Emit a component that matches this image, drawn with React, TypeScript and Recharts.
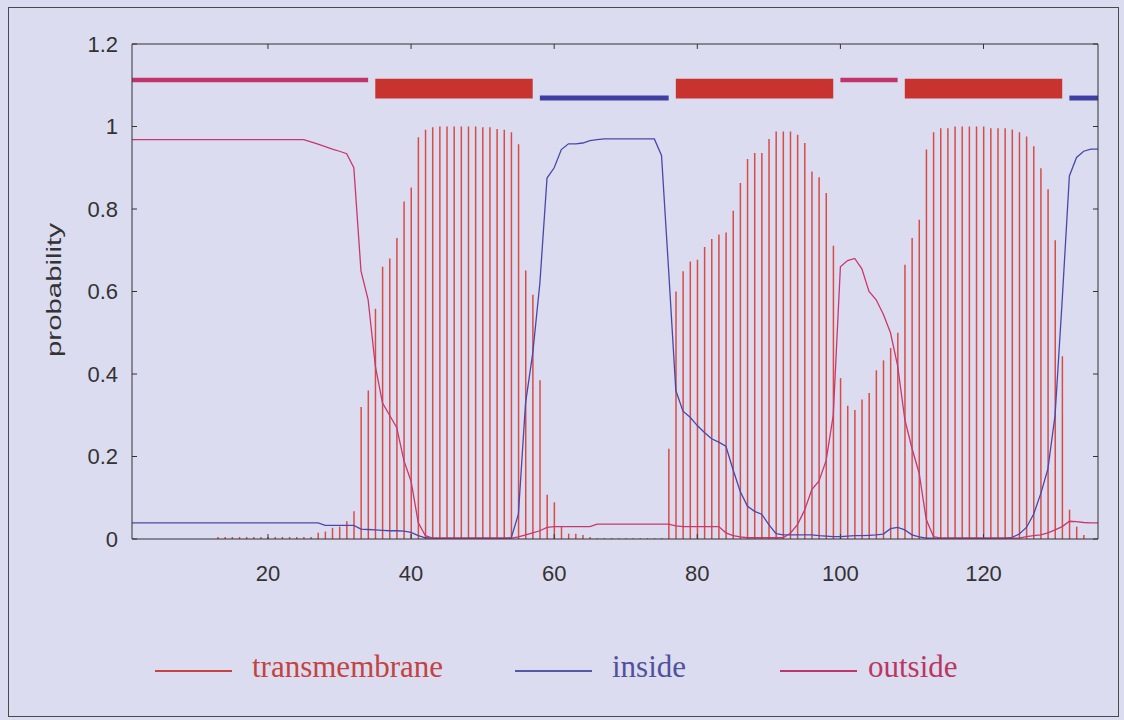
import React from "react";
import { ComposedChart, Bar, Line, XAxis, YAxis, ReferenceArea, ReferenceLine } from "recharts";

// posterior probabilities per residue (TMHMM style)
const tm = [
  0, 0, 0, 0, 0, 0, 0, 0, 0, 0,
  0, 0, 0.005, 0.005, 0.005, 0.005, 0.005, 0.005, 0.005, 0.005,
  0.005, 0.005, 0.005, 0.005, 0.005, 0.005, 0.015, 0.018, 0.027, 0.03,
  0.043, 0.067, 0.32, 0.36, 0.558, 0.66, 0.68, 0.73, 0.818, 0.852,
  0.974, 0.992, 0.998, 1, 1, 1, 1, 1, 1, 0.998,
  0.998, 0.994, 0.992, 0.986, 0.957, 0.651, 0.592, 0.385, 0.107, 0.089,
  0.03, 0.013, 0.013, 0.01, 0.005, 0.002, 0.002, 0.002, 0.002, 0.002,
  0.002, 0.002, 0.002, 0.002, 0.002, 0.219, 0.6, 0.649, 0.673, 0.677,
  0.708, 0.727, 0.738, 0.743, 0.796, 0.863, 0.921, 0.936, 0.936, 0.97,
  0.988, 0.988, 0.988, 0.98, 0.96, 0.891, 0.877, 0.839, 0.711, 0.39,
  0.323, 0.313, 0.338, 0.354, 0.409, 0.433, 0.463, 0.5, 0.665, 0.73,
  0.774, 0.944, 0.986, 0.996, 0.996, 1, 1, 1, 1, 1,
  0.996, 0.996, 0.996, 0.993, 0.986, 0.976, 0.952, 0.899, 0.848, 0.724,
  0.443, 0.071, 0.03, 0.01, 0, 0,
];

const inside = [
  0.039, 0.039, 0.039, 0.039, 0.039, 0.039, 0.039, 0.039, 0.039, 0.039,
  0.039, 0.039, 0.039, 0.039, 0.039, 0.039, 0.039, 0.039, 0.039, 0.039,
  0.039, 0.039, 0.039, 0.039, 0.039, 0.039, 0.039, 0.033, 0.033, 0.033,
  0.033, 0.033, 0.024, 0.023, 0.022, 0.021, 0.02, 0.02, 0.019, 0.016,
  0.008, 0.003, 0.002, 0.002, 0.002, 0.002, 0.002, 0.002, 0.002, 0.002,
  0.002, 0.002, 0.002, 0.003, 0.06, 0.33, 0.45, 0.62, 0.875, 0.9,
  0.944, 0.958, 0.958, 0.96, 0.966, 0.968, 0.97, 0.97, 0.97, 0.97,
  0.97, 0.97, 0.97, 0.97, 0.93, 0.65, 0.36, 0.31, 0.295, 0.275,
  0.258, 0.243, 0.235, 0.225, 0.168, 0.115, 0.08, 0.067, 0.06, 0.035,
  0.013, 0.01, 0.01, 0.01, 0.01, 0.01, 0.008, 0.007, 0.006, 0.006,
  0.007, 0.008, 0.008, 0.009, 0.01, 0.012, 0.025, 0.028, 0.022, 0.01,
  0.005, 0.002, 0.002, 0.002, 0.002, 0.002, 0.002, 0.002, 0.002, 0.002,
  0.002, 0.002, 0.002, 0.004, 0.012, 0.028, 0.06, 0.11, 0.17, 0.3,
  0.58, 0.88, 0.925, 0.94, 0.945, 0.945,
];

const outside = [
  0.968, 0.968, 0.968, 0.968, 0.968, 0.968, 0.968, 0.968, 0.968, 0.968,
  0.968, 0.968, 0.968, 0.968, 0.968, 0.968, 0.968, 0.968, 0.968, 0.968,
  0.968, 0.968, 0.968, 0.968, 0.968, 0.963, 0.957, 0.951, 0.945, 0.94,
  0.934, 0.9, 0.65, 0.58, 0.42, 0.33, 0.3, 0.27, 0.19, 0.14,
  0.04, 0.008, 0.002, 0.002, 0.002, 0.002, 0.002, 0.002, 0.002, 0.002,
  0.002, 0.002, 0.002, 0.002, 0.005, 0.01, 0.015, 0.02, 0.028, 0.03,
  0.03, 0.03, 0.03, 0.03, 0.03, 0.036, 0.036, 0.036, 0.036, 0.036,
  0.036, 0.036, 0.036, 0.036, 0.036, 0.036, 0.032, 0.03, 0.03, 0.03,
  0.03, 0.03, 0.03, 0.015, 0.008, 0.005, 0.003, 0.003, 0.003, 0.003,
  0.003, 0.003, 0.014, 0.035, 0.07, 0.12, 0.14, 0.19, 0.3, 0.66,
  0.675, 0.68, 0.655, 0.6, 0.58, 0.545, 0.5, 0.42, 0.29, 0.22,
  0.16, 0.047, 0.006, 0.002, 0.002, 0.002, 0.002, 0.002, 0.002, 0.002,
  0.002, 0.002, 0.002, 0.002, 0.002, 0.006, 0.008, 0.01, 0.015, 0.022,
  0.03, 0.043, 0.042, 0.04, 0.039, 0.039,
];

// predicted topology shown above the curves
const segStart = [1, 35, 58, 77, 100, 109, 132];
const segEnd = [34, 57, 76, 99, 108, 131, 136];
const segType = ["outside", "TMhelix", "inside", "TMhelix", "outside", "TMhelix", "inside"];

const xTicks = [20, 40, 60, 80, 100, 120];
const yTicks = [0, 0.2, 0.4, 0.6, 0.8, 1, 1.2];

const legendNames = ["transmembrane", "inside", "outside"];

const data = tm.map((v, i) => ({ r: i + 1, tm: v, inside: inside[i], outside: outside[i] }));

const X_MIN = 1;
const X_MAX = 136;
const Y_MAX = 1.2;
// inward tick length in data units (about 5px each way)
const TICK_X = 0.7;
const TICK_Y = 0.012;

const segStyle: Record<string, { y1: number; y2: number; fill: string }> = {
  outside: { y1: 1.107, y2: 1.118, fill: "#c2356b" },
  TMhelix: { y1: 1.068, y2: 1.116, fill: "#c9332f" },
  inside: { y1: 1.063, y2: 1.075, fill: "#3f3fa3" },
};

const legendStyle = [
  { line: 155, text: 252, color: "#c94440", text_color: "#c24341" },
  { line: 515, text: 612, color: "#5656a8", text_color: "#51519b" },
  { line: 780, text: 868, color: "#c2356b", text_color: "#b93760" },
];

const bg = "#dcdcf0";
const ink = "#333";
const tickFont = { fill: ink, fontSize: 22, fontFamily: "Liberation Sans, Arial, sans-serif" };

export default function App() {
  return (
    <div style={{ position: "absolute", left: 0, top: 0, width: 1124, height: 720, background: bg, overflow: "hidden" }}>
      <div style={{ position: "absolute", left: 8, top: 7, width: 1109, height: 708, border: "1px solid #4a4a4a" }} />
      <div style={{ position: "absolute", left: 0, top: 0 }}>
        <ComposedChart width={1124} height={720} data={data} margin={{ top: 44, right: 26, bottom: 141, left: 72 }}>
          <XAxis xAxisId="x" dataKey="r" type="number" domain={[X_MIN, X_MAX]} ticks={xTicks} height={40}
            tickLine={false} tickSize={0} tickMargin={26} axisLine={{ stroke: ink }} tick={tickFont} />
          <XAxis xAxisId="xt" dataKey="r" type="number" domain={[X_MIN, X_MAX]} ticks={xTicks} orientation="top" mirror height={10}
            tick={false} tickLine={false} axisLine={{ stroke: ink }} />
          <YAxis yAxisId="y" type="number" domain={[0, Y_MAX]} ticks={yTicks} width={60}
            tickLine={false} tickSize={0} tickMargin={14} axisLine={{ stroke: ink }} tick={tickFont}
            label={{
              content: () => (
                <text x={61} y={290} transform="rotate(-90 61 290)" textAnchor="middle" fill={ink}
                  fontSize={20} fontFamily="Liberation Sans, Arial, sans-serif" textLength={134} lengthAdjust="spacingAndGlyphs">
                  probability
                </text>
              ),
            }} />
          <YAxis yAxisId="yr" type="number" domain={[0, Y_MAX]} ticks={yTicks} orientation="right" mirror width={10}
            tick={false} tickLine={false} axisLine={{ stroke: ink }} />

          {/* inward tick marks on all four sides */}
          {xTicks.map((t) => (
            <ReferenceLine key={`xb${t}`} xAxisId="x" yAxisId="y" stroke={ink} strokeWidth={1}
              segment={[{ x: t, y: 0 }, { x: t, y: TICK_Y }]} />
          ))}
          {xTicks.map((t) => (
            <ReferenceLine key={`xt${t}`} xAxisId="x" yAxisId="y" stroke={ink} strokeWidth={1}
              segment={[{ x: t, y: Y_MAX }, { x: t, y: Y_MAX - TICK_Y }]} />
          ))}
          {yTicks.map((t) => (
            <ReferenceLine key={`yl${t}`} xAxisId="x" yAxisId="y" stroke={ink} strokeWidth={1}
              segment={[{ x: X_MIN, y: t }, { x: X_MIN + TICK_X, y: t }]} />
          ))}
          {yTicks.map((t) => (
            <ReferenceLine key={`yr${t}`} xAxisId="x" yAxisId="y" stroke={ink} strokeWidth={1}
              segment={[{ x: X_MAX, y: t }, { x: X_MAX - TICK_X, y: t }]} />
          ))}

          {segStart.map((s, i) => {
            const st = segStyle[segType[i]];
            return (
              <ReferenceArea key={i} xAxisId="x" yAxisId="y" x1={s} x2={segEnd[i]} y1={st.y1} y2={st.y2}
                fill={st.fill} fillOpacity={1} stroke="none" />
            );
          })}

          <Bar xAxisId="x" yAxisId="y" dataKey="tm" barSize={1.5} fill="#dc4a44" isAnimationActive={false} />
          <Line xAxisId="x" yAxisId="y" dataKey="inside" type="linear" stroke="#4848aa" strokeWidth={1.3}
            dot={false} isAnimationActive={false} />
          <Line xAxisId="x" yAxisId="y" dataKey="outside" type="linear" stroke="#c8386c" strokeWidth={1.3}
            dot={false} isAnimationActive={false} />
        </ComposedChart>
      </div>

      {legendNames.map((name, i) => {
        const ls = legendStyle[i];
        return (
          <React.Fragment key={name}>
            <div style={{ position: "absolute", left: ls.line, top: 670, width: 77, height: 1.5, background: ls.color }} />
            <div style={{
              position: "absolute", left: ls.text, top: 651, fontSize: 31, lineHeight: "31px",
              fontFamily: "Liberation Serif, Times New Roman, serif", color: ls.text_color, whiteSpace: "nowrap",
            }}>
              {name}
            </div>
          </React.Fragment>
        );
      })}
    </div>
  );
}
